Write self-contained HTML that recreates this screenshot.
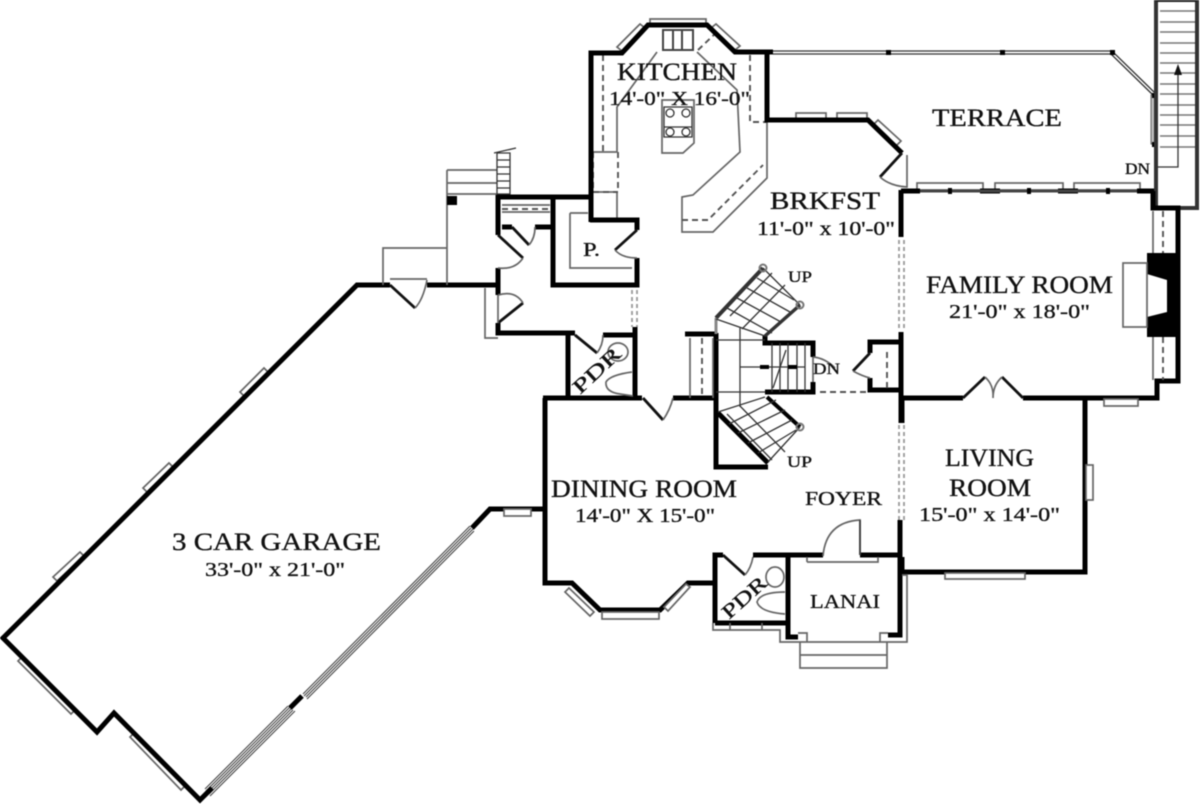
<!DOCTYPE html>
<html><head><meta charset="utf-8">
<style>
html,body{margin:0;padding:0;background:#fff;width:1200px;height:804px;overflow:hidden}
svg{display:block;filter:blur(.65px)}
.w{fill:none;stroke:#000;stroke-width:5;stroke-linejoin:miter}
.m{fill:none;stroke:#111;stroke-width:2.8}
.g{fill:none;stroke:#666;stroke-width:1.7}
.k{fill:none;stroke:#333;stroke-width:1.3}
.h{fill:none;stroke:#444;stroke-width:1.1}
.d{fill:none;stroke:#555;stroke-width:1.9;stroke-dasharray:6 4}
.o{fill:none;stroke:#999;stroke-width:1.8;stroke-dasharray:4 3}
.win{fill:#fff;stroke:#666;stroke-width:1.7}
text{font-family:"Liberation Serif",serif;fill:#111;stroke:#111;stroke-width:.35;font-size:25px}
.s{font-size:20px}
.t{font-size:16px}
</style></head><body>
<svg width="1200" height="804" viewBox="0 0 1200 804" xmlns="http://www.w3.org/2000/svg">

<!-- kitchen counters -->
<path class="g" d="M617 152V107L657 52M697 52L737 90L740 152L693 195L682 197V232H713L767 178V120M593 152H617M617 192V220M593 192H617"/>
<path class="d" d="M603 55V152M750 55V122H767M682 220H708L763 165M698 50L717 32"/>
<path class="d" d="M593 152V192M618 152V192M593 192H618"/>
<path class="g" d="M662 100V153H683L694 143V100Z"/>
<path class="k" d="M664 107H692V127H664ZM664 127H692V137H664Z"/>
<circle class="k" cx="670" cy="113" r="4"/><circle class="k" cx="686" cy="113" r="4"/>
<circle class="k" cx="670" cy="132" r="4"/><circle class="k" cx="686" cy="132" r="4"/>
<rect x="663" y="30" width="30" height="20" fill="none" stroke="#444" stroke-width="2"/><path d="M673 30V50M682 30V50" stroke="#444" stroke-width="2"/>

<!-- windows kitchen -->
<path class="win" d="M650 19H706V24H650Z"/>
<path class="win" d="M617 47L640 24L645 28L622 51Z"/>
<path class="win" d="M716 24L740 46L735 50L711 28Z"/>
<rect class="win" x="796" y="113" width="30" height="6"/><rect class="win" x="837" y="113" width="30" height="6"/>
<path class="win" d="M878 120L901 141L896 146L873 125Z"/>

<!-- terrace -->
<path class="k" d="M773 51H1112L1155 93M773 54H1111L1153 95"/>
<rect x="1151" y="95" width="4" height="49" fill="#bbb" stroke="#666"/>
<rect x="886" y="50" width="5" height="5" fill="#000"/>
<rect x="1000" y="50" width="5" height="5" fill="#000"/>
<rect x="1110" y="50" width="5" height="5" fill="#000"/>
<rect x="1152" y="93" width="5" height="5" fill="#000"/><rect x="1152" y="142" width="5" height="5" fill="#000"/>
<rect class="win" x="917" y="183" width="66" height="7"/><rect class="win" x="995" y="183" width="68" height="7"/><rect class="win" x="1074" y="183" width="66" height="7"/>
<path d="M903 191H920M980 191H1000M1058 191H1078M1137 191H1155" stroke="#000" stroke-width="5"/>
<path d="M920 191H1137" stroke="#444" stroke-width="3"/>
<rect x="948" y="188" width="4" height="6" fill="#000"/><rect x="1027" y="188" width="4" height="6" fill="#000"/><rect x="1106" y="188" width="4" height="6" fill="#000"/>

<!-- exterior stair -->
<path d="M1156 0V208M1197 0V208M1178 208H1199" stroke="#333" stroke-width="4" fill="none"/>
<path d="M1160 11H1195M1160 22H1195M1160 32H1195M1160 43H1195M1160 53H1195M1160 63H1195M1160 73H1195M1160 84H1195M1160 94H1195M1160 105H1195M1160 115H1195M1160 125H1195M1160 136H1195M1160 147H1195" stroke="#777" stroke-width="1.5"/>
<path d="M1156 1H1197" stroke="#222" stroke-width="2"/>
<path class="k" d="M1178 70V167H1157"/><path d="M1178 64L1174 75H1182Z" fill="#111"/>

<!-- garage windows (drawn outside the wall) -->
<path class="win" d="M240 392L264 368L268 372L244 396Z"/>
<path class="win" d="M143 488L169 463L173 467L147 492Z"/>
<path class="win" d="M53 577L80 552L84 556L57 581Z"/>
<path class="win" d="M22 657L18 661L71 714L75 710Z"/>
<path class="win" d="M134 733L130 737L181 790L185 786Z"/>
<!-- garage door bands -->
<path class="h" d="M205 789L288 706M206 791L290 707M207 793L292 708M209 794L293 710M210 796L295 711M303 694L470 526M304 696L471 528M306 697L473 529M307 699L474 531"/>

<!-- main walls -->
<path class="w" d="M390 285H357L3 638L97 732L114 713L200 800L212 788"/>
<path class="w" d="M472 528L490 509H545"/>
<path class="w" d="M290 708L302 696"/>
<path class="w" d="M545 398V583H572L600 610H660L688 583H715"/>
<path class="w" d="M543 398H642M673 398H716"/>
<path class="w" d="M427 285H498M498 268V295M498 323V333H575M603 335H635"/>
<path class="w" d="M568 335V398M635 327V398"/>
<path class="w" d="M553 197V285H637V258M498 235V197H591M591 222V53H622L648 25H707L735 52H773M767 52V120H868L902 153"/>
<path class="w" d="M590 220H637V230"/>
<path class="w" d="M560 197H591" />
<path class="w" d="M502 227H512M535 227H553"/>
<path class="w" d="M901 190V237M901 191H905"/>
<path class="w" d="M901 332V423M901 398H963M1023 398H1157V381H1178V208H1153V191"/>
<path class="w" d="M870 353V342H900M870 378V390H900"/>
<path class="m" d="M902 153L880 177M963 398L985 377M1023 398L1002 377M498 235L523 258M498 323L523 303M512 227L529 245M390 285L415 308M575 335L597 353M643 398L663 420M723 555L745 575"/>
<path class="g" d="M880 177Q890 186 907 187V155M498 268Q515 270 523 258M498 295Q515 290 523 303M529 245Q535 238 535 227M415 308Q423 300 427 280M597 353Q603 345 603 335M663 420Q670 410 673 398M745 575Q751 568 753 557M985 377Q994 385 993 398M1002 377Q993 385 993 398"/>
<path class="m" d="M637 230L615 250"/><path class="g" d="M615 250Q622 258 637 258"/>
<path class="g" d="M498 295V323M390 279H427"/>
<path class="w" d="M1085 398V572H902M902 423V398M900 520V557M902 557V572"/>
<path class="w" d="M715 623V555H723M753 555H823M860 555H900M715 623H788V637H798M788 557V637M888 635H900V555"/>

<!-- foyer door -->
<path class="g" d="M823 556Q826 522 860 520V555"/><path d="M860 520V555" stroke="#444" stroke-width="2"/>
<path class="g" d="M807 562H878V557M807 562V557"/>
<path class="g" d="M713 623V630H780V642H907V575H902M730 623V630M762 623V630"/>
<path class="g" d="M800 642V668H887V642M800 655H887"/>
<path class="g" d="M798 633H807V642M888 633H880V642"/>
<rect class="win" x="602" y="612" width="57" height="7"/>
<path class="win" d="M569 588L594 612L590 616L565 592Z"/>
<path class="win" d="M690 587L668 611L664 607L686 584Z"/>
<rect class="win" x="945" y="573" width="80" height="6"/>
<rect class="win" x="1086" y="465" width="7" height="35"/>
<rect class="win" x="1104" y="399" width="34" height="7"/>
<rect class="win" x="504" y="509" width="27" height="7"/>

<!-- back area -->
<path class="g" d="M447 170V285M383 285V248H447M447 170H497M447 183H497M447 194H497M485 288V338H498"/>
<rect x="447" y="196" width="10" height="9" fill="#000"/>
<path class="k" d="M497 153H510V194H497ZM494 153L516 148M497 160H510M497 167H510M497 174H510M497 181H510M497 188H510"/>
<path class="d" d="M502 209H550" stroke-width="2.4"/>
<path class="g" d="M502 205H550M502 212H550"/>
<path class="g" d="M570 213H588M570 213V268H632"/>
<path class="o" d="M632 290V327M637 290V327"/>

<!-- PDR fixtures -->
<ellipse class="g" cx="618" cy="352" rx="10" ry="9"/>
<path class="g" d="M632 372Q610 375 606 382Q605 392 620 394L633 396"/>
<ellipse class="g" cx="775" cy="577" rx="9" ry="10"/>
<path class="g" d="M785 592Q760 592 757 602Q760 612 785 614"/>

<!-- grand stair -->
<path class="w" d="M716 333V467H768M768 463L718 413"/>
<path class="w" d="M685 334H716M813 357V343H765V336M813 382V392H765"/>
<path d="M716 318L763 268" stroke="#333" stroke-width="4"/>
<path d="M716 318V334" stroke="#888" stroke-width="3"/>
<path d="M765 336L800 305" stroke="#333" stroke-width="3.5"/>
<path d="M767 397L800 427" stroke="#000" stroke-width="4"/>
<path class="k" d="M763 268L800 305M800 427L768 462M716 319L765 336M718 412L765 397M716 340H765M716 392H765M740 328V407M740 367H805M772 343V392M780 343V392M788 343V392M797 343V392M805 343V392"/>
<path class="k" d="M727 308L772 333M737 298L781 322M747 288L790 312M757 278L794 300M742 329L785 285M730 316L772 273" />
<path class="k" d="M729 424L776 400M738 433L785 410M748 443L792 420M758 453L796 430M740 406L785 452M727 414L772 460" />
<circle cx="763" cy="268" r="3.5" fill="none" stroke="#777" stroke-width="2"/>
<circle cx="800" cy="305" r="3.5" fill="none" stroke="#777" stroke-width="2"/>
<circle cx="800" cy="427" r="3.5" fill="none" stroke="#777" stroke-width="2"/>
<rect x="760" y="365" width="9" height="4" fill="#000"/><rect x="788" y="365" width="9" height="4" fill="#000"/>
<path class="k" d="M786 350L773 388"/>
<path class="g" d="M690 338V398M713 338V398"/><path class="d" d="M702 338V398"/>
<path class="g" d="M813 357Q825 358 835 368M813 357V382"/>
<path class="d" d="M820 392H870"/>
<path class="d" d="M887 352V388"/>
<path class="m" d="M870 353L853 371"/><path class="g" d="M853 371Q862 376 870 378"/>

<!-- dotted openings -->
<path class="o" d="M899 240V330M904 240V330M899 425V520M904 425V520"/>

<!-- fireplace -->
<polygon points="1147,253 1178,253 1178,337 1147,337 1147,317 1167,312 1167,280 1147,274" fill="#000"/>
<rect class="g" x="1123" y="263" width="24" height="64"/>
<path class="g" d="M1153 211V253M1153 337V380"/>
<path class="d" d="M1163 211V253M1163 337V380"/>

<!-- labels -->
<text x="617" y="80" textLength="120" lengthAdjust="spacingAndGlyphs">KITCHEN</text>
<text class="s" x="609" y="105" textLength="141" lengthAdjust="spacingAndGlyphs">14'-0" X 16'-0"</text>
<text x="932" y="126" textLength="130" lengthAdjust="spacingAndGlyphs">TERRACE</text>
<text x="770" y="209" textLength="110" lengthAdjust="spacingAndGlyphs">BRKFST</text>
<text class="s" x="757" y="235" textLength="138" lengthAdjust="spacingAndGlyphs">11'-0" x 10'-0"</text>
<text x="926" y="293" textLength="187" lengthAdjust="spacingAndGlyphs">FAMILY ROOM</text>
<text class="s" x="949" y="318" textLength="141" lengthAdjust="spacingAndGlyphs">21'-0" x 18'-0"</text>
<text x="551" y="497" textLength="186" lengthAdjust="spacingAndGlyphs">DINING ROOM</text>
<text class="s" x="575" y="522" textLength="140" lengthAdjust="spacingAndGlyphs">14'-0" X 15'-0"</text>
<text x="945" y="466" textLength="89" lengthAdjust="spacingAndGlyphs">LIVING</text>
<text x="949" y="496" textLength="82" lengthAdjust="spacingAndGlyphs">ROOM</text>
<text class="s" x="919" y="521" textLength="141" lengthAdjust="spacingAndGlyphs">15'-0" x 14'-0"</text>
<text class="s" x="805" y="505" textLength="77" lengthAdjust="spacingAndGlyphs">FOYER</text>
<text class="s" x="810" y="608" textLength="70" lengthAdjust="spacingAndGlyphs">LANAI</text>
<text x="172" y="550" textLength="209" lengthAdjust="spacingAndGlyphs">3 CAR GARAGE</text>
<text class="s" x="205" y="576" textLength="140" lengthAdjust="spacingAndGlyphs">33'-0" x 21'-0"</text>
<text class="s" x="583" y="256" textLength="17" lengthAdjust="spacingAndGlyphs">P.</text>
<text class="t" x="788" y="282" textLength="24" lengthAdjust="spacingAndGlyphs">UP</text>
<text class="t" x="787" y="467" textLength="25" lengthAdjust="spacingAndGlyphs">UP</text>
<text class="t" x="813" y="374" textLength="27" lengthAdjust="spacingAndGlyphs">DN</text>
<text class="t" x="1125" y="174" textLength="25" lengthAdjust="spacingAndGlyphs">DN</text>
<text class="s" transform="translate(580 395) rotate(-43)" textLength="58" lengthAdjust="spacingAndGlyphs">PDR</text>
<text class="s" transform="translate(729 620) rotate(-42)" textLength="53" lengthAdjust="spacingAndGlyphs">PDR</text>
</svg>
</body></html>
